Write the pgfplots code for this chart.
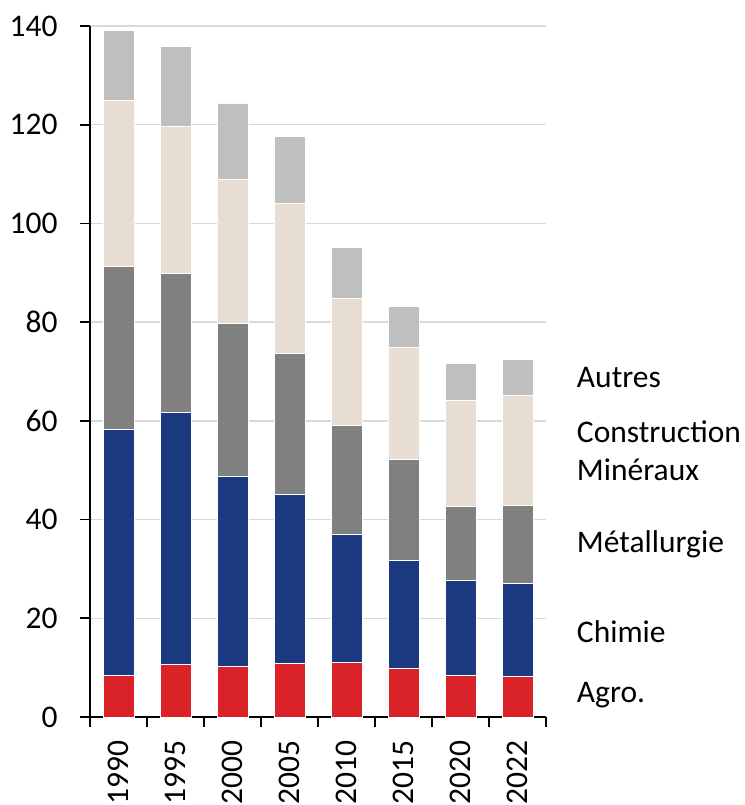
\documentclass[border=0pt]{standalone}
\usepackage{pgfplots}
\pgfplotsset{compat=1.18}
\usepackage{fontspec}
\setmainfont{Carlito}
\definecolor{cAgro}{HTML}{DA2229}
\definecolor{cChim}{HTML}{1B3A82}
\definecolor{cMet}{HTML}{808080}
\definecolor{cCons}{HTML}{E7DDD3}
\definecolor{cAut}{HTML}{BFBFBF}
\definecolor{cGrid}{HTML}{D9D9D9}
\pgfplotsset{layers/mylayers/.define layer set={axis background,axis grid,pre main,main,axis ticks,axis lines,axis tick labels,axis descriptions,axis foreground}{}}
\begin{document}
\begin{tikzpicture}
\begin{axis}[
  name=ax,
  set layers=mylayers,
  scale only axis,
  width=456pt, height=691pt,
  xmin=-0.5, xmax=7.5, ymin=0, ymax=140,
  ybar stacked, bar width=31pt,
  axis x line*=bottom, axis y line*=left,
  axis line style={black, line width=1.6pt},
  ymajorgrids, grid style={cGrid, line width=1.3pt},
  ytick={0,20,...,140},
  xtick={-0.5,0.5,1.5,2.5,3.5,4.5,5.5,6.5,7.5},
  xticklabels={1990,1995,2000,2005,2010,2015,2020,2022,{}},
  tick style={black, line width=1.6pt},
  tick align=outside,
  major tick length=10pt,
  x tick label style={xshift=28.5pt, rotate=90, anchor=east},
  xticklabel shift=10pt,
  yticklabel shift=19pt,
  tick label style={font=\fontsize{31.5}{36}\selectfont},
  /pgf/number format/assume math mode=true,
  clip=false,
  every axis plot/.append style={draw=white, line width=0.8pt},
]
\addplot[fill=cAgro] coordinates {(0,8.4) (1,10.6) (2,10.3) (3,10.9) (4,11.0) (5,9.8) (6,8.5) (7,8.2)};
\addplot[fill=cChim] coordinates {(0,49.9) (1,51.1) (2,38.4) (3,34.2) (4,26.0) (5,22.0) (6,19.2) (7,18.9)};
\addplot[fill=cMet] coordinates {(0,33.0) (1,28.2) (2,31.1) (3,28.6) (4,22.1) (5,20.4) (6,14.9) (7,15.8)};
\addplot[fill=cCons] coordinates {(0,33.7) (1,29.8) (2,29.1) (3,30.4) (4,25.7) (5,22.6) (6,21.5) (7,22.3)};
\addplot[fill=cAut] coordinates {(0,14.1) (1,16.2) (2,15.5) (3,13.6) (4,10.3) (5,8.3) (6,7.5) (7,7.2)};
\node[anchor=west, font=\fontsize{31.5}{36}\selectfont, inner sep=0pt] at (axis cs:8.04,68.7) {Autres};
\node[anchor=west, font=\fontsize{31.5}{36}\selectfont, inner sep=0pt] at (axis cs:8.04,57.7) {Construction};
\node[anchor=west, font=\fontsize{31.5}{36}\selectfont, inner sep=0pt] at (axis cs:8.04,50.0) {Minéraux};
\node[anchor=west, font=\fontsize{31.5}{36}\selectfont, inner sep=0pt] at (axis cs:8.04,34.9) {Métallurgie};
\node[anchor=west, font=\fontsize{31.5}{36}\selectfont, inner sep=0pt] at (axis cs:8.04,17.3) {Chimie};
\node[anchor=west, font=\fontsize{31.5}{36}\selectfont, inner sep=0pt] at (axis cs:8.04,4.4) {Agro.};
\end{axis}
\pgfresetboundingbox
\path[use as bounding box] (ax.south west) ++(-90pt,-88pt) rectangle ++(744pt,805pt);
\end{tikzpicture}
\end{document}
